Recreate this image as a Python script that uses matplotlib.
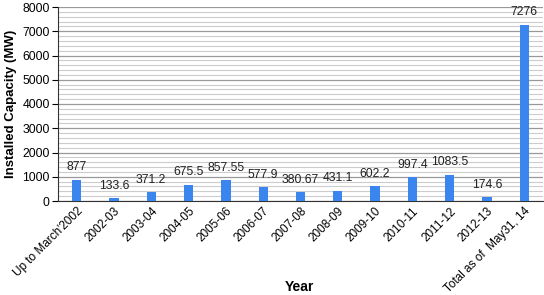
import matplotlib
matplotlib.use("Agg")
import matplotlib.pyplot as plt
from matplotlib.ticker import MultipleLocator

categories = ["Up to March'2002", "2002-03", "2003-04", "2004-05", "2005-06", "2006-07",
              "2007-08", "2008-09", "2009-10", "2010-11", "2011-12", "2012-13",
              "Total as of  May31, 14"]
values = [877, 133.6, 371.2, 675.5, 857.55, 577.9, 380.67, 431.1, 602.2, 997.4, 1083.5, 174.6, 7276]
labels = ["877", "133.6", "371.2", "675.5", "857.55", "577.9", "380.67", "431.1", "602.2",
          "997.4", "1083.5", "174.6", "7276"]

plt.rcParams['font.family'] = ['Liberation Sans', 'DejaVu Sans']
fig = plt.figure(figsize=(5.44, 2.95), dpi=100)
ax = fig.add_axes([58/544, 1 - 201/295, (543-58)/544, (201-7)/295])

x = list(range(len(categories)))
ax.bar(x, values, width=0.25, color="#3a86ee", zorder=3)
for xi, v, lab in zip(x, values, labels):
    ax.annotate(lab, (xi, v), xytext=(0, 4.5), textcoords="offset points",
                ha="center", va="bottom", fontsize=8.8, color="#222222")

ax.set_xlim(-0.5, len(categories) - 0.5)
ax.set_ylim(0, 8000)
ax.yaxis.set_major_locator(MultipleLocator(1000))
ax.yaxis.set_minor_locator(MultipleLocator(200))
ax.grid(axis="y", which="major", color="#999999", linewidth=0.9, zorder=0)
ax.grid(axis="y", which="minor", color="#cccccc", linewidth=0.8, zorder=0)
ax.tick_params(axis="y", which="minor", length=0)
ax.tick_params(axis="y", which="major", length=4, width=0.8, labelsize=8.8, pad=2)
ax.tick_params(axis="x", length=0, labelsize=8.5, pad=3)
ax.set_xticks(x)
ax.set_xticklabels(categories, rotation=45, ha="right", rotation_mode="anchor")
for s in ["top", "right"]:
    ax.spines[s].set_visible(False)
ax.spines["left"].set_color("#333333")
ax.spines["bottom"].set_color("#333333")

ax.set_ylabel("Installed Capacity (MW)", fontsize=9.5, fontweight="bold", labelpad=4)
fig.text(299/544, 1 - 287/295, "Year", fontsize=10, fontweight="bold", ha="center", va="center")

fig.savefig("out.png", dpi=100)
